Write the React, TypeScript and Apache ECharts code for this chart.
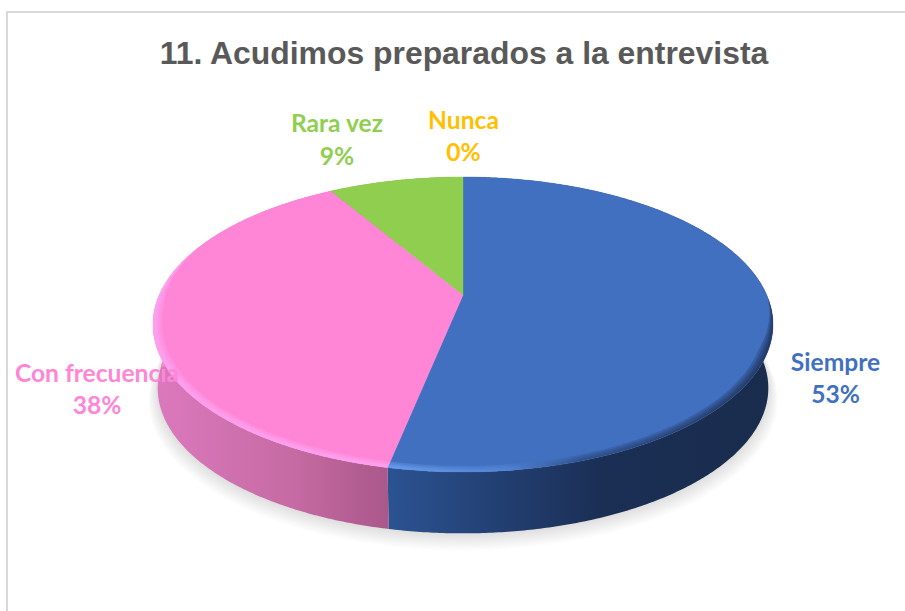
import React, { useEffect, useRef } from "react";
import * as echarts from "echarts";

const titleText = "11. Acudimos preparados a la entrevista";
const categories = ["Siempre", "Con frecuencia", "Rara vez", "Nunca"];
const values = [53.2, 38.3, 8.5, 0];
const faceColors = ["#4270C0", "#FF85D6", "#90CE50", "#FFC000"];

const total = values.reduce((a, b) => a + b, 0);
const percentLabels = values.map((v) => `${Math.round((v / total) * 100)}%`);

// projection of the tilted disc
const CX = 463;
const CY = 295;
const BX = 303.7;
const AY = 141.6;
const K = 0.2;
const LOWER_SCALE = 0.985;
const LOWER_DY = 64;

function top(theta: number, r = 1): [number, number] {
  const u = Math.sin(theta) * r;
  const v = Math.cos(theta) * r;
  const w = 1 + K * v;
  return [CX + (BX * u) / w, CY - (AY * v) / w];
}
function lower(theta: number): [number, number] {
  const [x, y] = top(theta);
  return [CX + (x - CX) * LOWER_SCALE, CY + (y - CY) * LOWER_SCALE + LOWER_DY];
}
function angles(a: number, b: number): number[] {
  const n = Math.max(2, Math.ceil(((b - a) * 180) / Math.PI / 0.5));
  const out: number[] = [];
  for (let i = 0; i <= n; i++) out.push(a + ((b - a) * i) / n);
  return out;
}
function sliceRange(i: number): [number, number] {
  let s = 0;
  for (let k = 0; k < i; k++) s += values[k];
  const a = (s / total) * Math.PI * 2;
  const b = ((s + values[i]) / total) * Math.PI * 2;
  return [a, b];
}
const hGrad = (x: number, x2: number, stops: [number, string][]) => ({
  type: "linear",
  x,
  y: 0,
  x2,
  y2: 0,
  global: true,
  colorStops: stops.map(([offset, color]) => ({ offset, color })),
});

const wallFills: any[] = [
  hGrad(390, 775, [
    [0, "#2B5391"],
    [0.3, "#223E70"],
    [0.55, "#1B2F55"],
    [1, "#192C4D"],
  ]),
  hGrad(153, 392, [
    [0, "#DC79BE"],
    [0.6, "#C56AA2"],
    [1, "#A9578A"],
  ]),
  "#6F9A3C",
  "#BF9000",
];
const rimFills: any[] = [
  hGrad(390, 775, [
    [0, "#6FA5F5"],
    [0.3, "#5588DC"],
    [0.5, "#2A4A80"],
    [1, "#1B2F55"],
  ]),
  "#FFA8F5",
  "#90CE50",
  "#FFC000",
];

function renderShadow() {
  const children: any[] = [];
  const pts = angles(0, Math.PI * 2);
  for (let i = 1; i <= 16; i++) {
    const s = 1 + i * 0.002;
    const dy = i * 0.6;
    children.push({
      type: "polygon",
      shape: {
        points: pts.map((t) => {
          const [x, y] = lower(t);
          return [CX + (x - CX) * s, CY + (y - CY) * s + dy];
        }),
      },
      style: { fill: "rgba(0,0,0,0.009)" },
    });
  }
  return { type: "group", children };
}

function renderWall(params: any) {
  const i = params.dataIndex;
  if (values[i] <= 0) return { type: "group", children: [] };
  const [a, b] = sliceRange(i);
  const th = angles(a, b);
  const points = [...th.map((t) => top(t)), ...th.slice().reverse().map((t) => lower(t))];
  return {
    type: "polygon",
    shape: { points },
    style: { fill: wallFills[i], stroke: null },
  };
}

function rimWeight(t: number, i: number) {
  const c = -Math.cos(t);
  // blue side has its rim only from the rightmost point round to the front
  if (i === 0) return Math.min(1, Math.max(0, (c - 0.02) / 0.35));
  return Math.min(1, Math.max(0, (c + 0.35) / 0.45));
}

function renderFace(params: any) {
  const i = params.dataIndex;
  if (values[i] <= 0) return { type: "group", children: [] };
  const [a, b] = sliceRange(i);
  const th = angles(a, b);
  const children: any[] = [
    {
      type: "polygon",
      shape: { points: [[CX, CY], ...th.map((t) => top(t))] },
      style: { fill: faceColors[i], stroke: faceColors[i], lineWidth: 0.4 },
    },
  ];
  const widths = [0.028, 0.021, 0.014, 0.007];
  const opac = [0.3, 0.3, 0.35, 0.4];
  widths.forEach((w, k) => {
    children.push({
      type: "polygon",
      shape: {
        points: [
          ...th.map((t) => top(t)),
          ...th.slice().reverse().map((t) => top(t, 1 - w * rimWeight(t, i))),
        ],
      },
      style: { fill: rimFills[i], opacity: opac[k] },
    });
  });
  return { type: "group", children };
}

const labelLayout = [
  { x: 835.5, y: 361, dy: 32 },
  { x: 97, y: 372, dy: 32 },
  { x: 337, y: 122, dy: 33 },
  { x: 463.5, y: 119, dy: 32 },
];
const labelFont = { fontFamily: "Lato", fontWeight: 700, fontSize: 24.6 };

export default function App() {
  const ref = useRef<HTMLDivElement>(null);
  useEffect(() => {
    document.body.style.margin = "0";
    const chart = echarts.init(ref.current!, null, { renderer: "svg" });
    const data = values.map((v, i) => ({ name: categories[i], value: [v] }));
    const labelTexts: any[] = [];
    categories.forEach((c, i) => {
      const l = labelLayout[i];
      [c, percentLabels[i]].forEach((text, k) => {
        labelTexts.push({
          type: "text",
          x: l.x,
          y: l.y + k * l.dy,
          z: 20,
          silent: true,
          style: {
            text,
            fill: faceColors[i],
            align: "center",
            verticalAlign: "middle",
            ...labelFont,
          },
        });
      });
    });
    chart.setOption({
      animation: false,
      backgroundColor: "#FFFFFF",
      graphic: [
        {
          type: "rect",
          silent: true,
          z: 0,
          shape: { x: 7, y: 12, width: 1000, height: 1000 },
          style: { fill: "none", stroke: "#D9D9D9", lineWidth: 2 },
        },
        {
          type: "text",
          x: 464,
          y: 53,
          z: 20,
          silent: true,
          style: {
            text: titleText,
            fill: "#595959",
            align: "center",
            verticalAlign: "middle",
            fontFamily: "Liberation Sans",
            fontWeight: 700,
            fontSize: 31.9,
          },
        },
        ...labelTexts,
      ],
      series: [
        {
          type: "custom",
          coordinateSystem: "none",
          silent: true,
          z: 1,
          data: [{ value: [total] }],
          renderItem: renderShadow,
        },
        { type: "custom", coordinateSystem: "none", silent: true, z: 2, data, renderItem: renderWall },
        { type: "custom", coordinateSystem: "none", silent: true, z: 3, data, renderItem: renderFace },
      ],
    });
    return () => chart.dispose();
  }, []);
  return <div ref={ref} style={{ width: 905, height: 611 }} />;
}
